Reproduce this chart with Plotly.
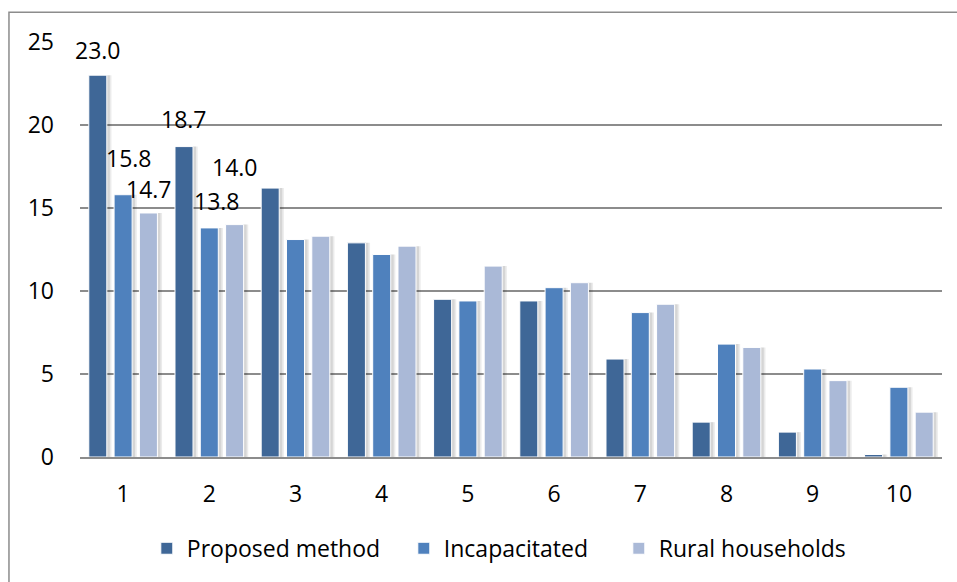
import plotly.graph_objects as go

# Ranking positions 1..10 and the three compared series
positions = [1, 2, 3, 4, 5, 6, 7, 8, 9, 10]
proposed = [23.0, 18.7, 16.2, 12.9, 9.5, 9.4, 5.9, 2.1, 1.5, 0.15]
incapacitated = [15.8, 13.8, 13.1, 12.2, 9.4, 10.2, 8.7, 6.8, 5.3, 4.2]
rural = [14.7, 14.0, 13.3, 12.7, 11.5, 10.5, 9.2, 6.6, 4.6, 2.7]
series_names = ["Proposed method", "Incapacitated", "Rural households"]
y_ticks = [0, 5, 10, 15, 20, 25]

colors = ["#3F6797", "#4F81BD", "#AAB9D7"]
legend_widths = [212, 170, 190]    # legend entry text widths (px)
FONT = "Open Sans, Lato, sans-serif"
FS = 23

bar_w = 0.209                      # bar width in category units
offsets = [-0.398, -0.1045, 0.189]  # left edge of each bar in a group

fig = go.Figure()

series = [proposed, incapacitated, rural]

# soft drop shadows behind the bars
for vals, off in zip(series, offsets):
    fig.add_trace(go.Bar(
        x=positions, y=vals, offset=off + 0.004, width=bar_w + 0.05,
        marker=dict(color="rgba(0,0,0,0.08)", line=dict(width=0)),
        showlegend=False, hoverinfo="skip"))
    fig.add_trace(go.Bar(
        x=positions, y=vals, offset=off + 0.01, width=bar_w + 0.025,
        marker=dict(color="rgba(0,0,0,0.09)", line=dict(width=0)),
        showlegend=False, hoverinfo="skip"))

for name, vals, off, col, lw in zip(series_names, series, offsets, colors, legend_widths):
    fig.add_trace(go.Bar(
        x=positions, y=vals, name=name, offset=off, width=bar_w,
        legendwidth=lw,
        marker=dict(color=col, line=dict(color="white", width=1))))

# value labels on the first two groups (placed by hand around the bars)
label_specs = [
    # (series index, group index, xshift, yshift)
    (0, 0, 0, 25),
    (1, 0, 6, 37),
    (2, 0, 1, 24),
    (0, 1, 0, 28),
    (1, 1, 8, 27),
    (2, 1, 0, 58),
]
for si, gi, xs, ys in label_specs:
    v = series[si][gi]
    fig.add_annotation(
        x=positions[gi] + offsets[si] + bar_w / 2, y=v,
        text=f"{v:.1f}", showarrow=False,
        xshift=xs, yshift=ys, yanchor="middle", height=20, valign="middle",
        font=dict(family=FONT, size=FS, color="black"))

# outer chart frame
fig.add_shape(type="rect", xref="paper", yref="paper",
              x0=-0.0824, x1=1.06, y0=-0.35, y1=1.0717,
              line=dict(color="#8C8C8C", width=1.5), fillcolor="rgba(0,0,0,0)",
              layer="below")

fig.update_layout(
    width=957, height=582,
    margin=dict(l=80, r=15, t=42, b=125),
    paper_bgcolor="white", plot_bgcolor="white",
    barmode="overlay",
    font=dict(family=FONT, size=FS, color="black"),
    showlegend=True,
    legend=dict(orientation="h", x=0.0775, xanchor="left", y=-0.22, yanchor="middle",
                font=dict(family=FONT, size=FS, color="black"),
                itemwidth=30, traceorder="normal", bgcolor="rgba(0,0,0,0)"),
    xaxis=dict(range=[0.5, 10.5], tickvals=positions, ticktext=[str(p) for p in positions],
               showgrid=False, zeroline=False, showline=True,
               linecolor="#8C8C8C", linewidth=2, ticks="", ticklabelstandoff=15,
               tickfont=dict(family=FONT, size=FS, color="black")),
    yaxis=dict(range=[0, 25], tickvals=y_ticks, showgrid=True,
               gridcolor="#8C8C8C", gridwidth=1.5, zeroline=False, showline=False,
               ticks="", ticklabelstandoff=25,
               tickfont=dict(family=FONT, size=FS, color="black")),
)

fig.write_html("out.html")
